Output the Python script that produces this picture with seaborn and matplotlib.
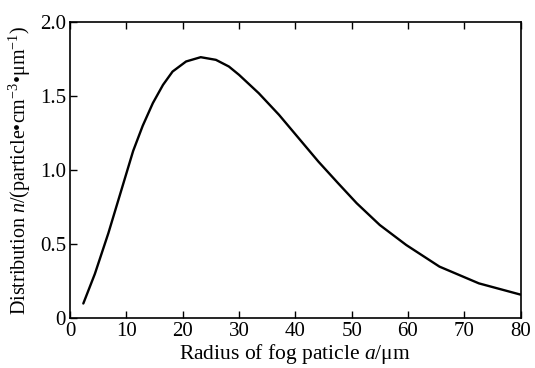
import matplotlib
matplotlib.use("Agg")
import matplotlib.pyplot as plt
import seaborn as sns
import pandas as pd
from matplotlib.ticker import FuncFormatter

radius = [2.35, 4.4, 6.8, 9.1, 11.2, 12.9, 14.7, 16.5, 18.2, 20.6, 23.2, 25.9,
          28.2, 30.0, 33.5, 37.1, 40.6, 44.1, 47.6, 50.9, 55.0, 59.7, 65.6,
          72.6, 80.0]
distribution = [0.10, 0.30, 0.575, 0.865, 1.13, 1.30, 1.453, 1.576, 1.666,
                1.734, 1.763, 1.745, 1.70, 1.644, 1.52, 1.374, 1.216, 1.058,
                0.912, 0.777, 0.63, 0.495, 0.349, 0.236, 0.16]
x_ticks = [0, 10, 20, 30, 40, 50, 60, 70, 80]
y_ticks = [0, 0.5, 1.0, 1.5, 2.0]

sns.set_style("ticks")
plt.rcParams["font.family"] = ["Liberation Serif", "DejaVu Serif"]
plt.rcParams["mathtext.fontset"] = "custom"
plt.rcParams["mathtext.rm"] = "Liberation Serif"
plt.rcParams["mathtext.it"] = "Liberation Serif:italic"
plt.rcParams["text.color"] = "black"
plt.rcParams["axes.labelcolor"] = "black"

df = pd.DataFrame({"a": radius, "n": distribution})

fig = plt.figure(figsize=(5.35, 3.68), dpi=100)
ax = fig.add_axes([0.131, 0.135, 0.842, 0.805])
sns.lineplot(data=df, x="a", y="n", ax=ax, color="black", linewidth=1.7)

ax.set_xlim(0, 80)
ax.set_ylim(0, 2.0)
ax.set_xticks(x_ticks)
ax.set_yticks(y_ticks)
ax.xaxis.set_major_formatter(FuncFormatter(lambda v, p: f"{v:.0f}"))
ax.yaxis.set_major_formatter(FuncFormatter(lambda v, p: "0" if v == 0 else f"{v:.1f}"))
ax.tick_params(axis="both", direction="in", length=5, width=1, labelsize=15,
               colors="black", labelcolor="black", pad=3)
ax.tick_params(axis="x", top=True, bottom=True)
ax.tick_params(axis="y", left=True, right=False)
for s in ax.spines.values():
    s.set_visible(True)
    s.set_linewidth(1.2)
    s.set_color("black")

ax.set_xlabel("Radius of fog paticle $a$/μm", fontsize=15.5, labelpad=0.5, color="black")
ax.set_ylabel("Distribution $n$/(particle•cm$^{-3}$•μm$^{-1}$)", fontsize=14.5,
              labelpad=5, color="black")

fig.savefig("out.png", dpi=100)
